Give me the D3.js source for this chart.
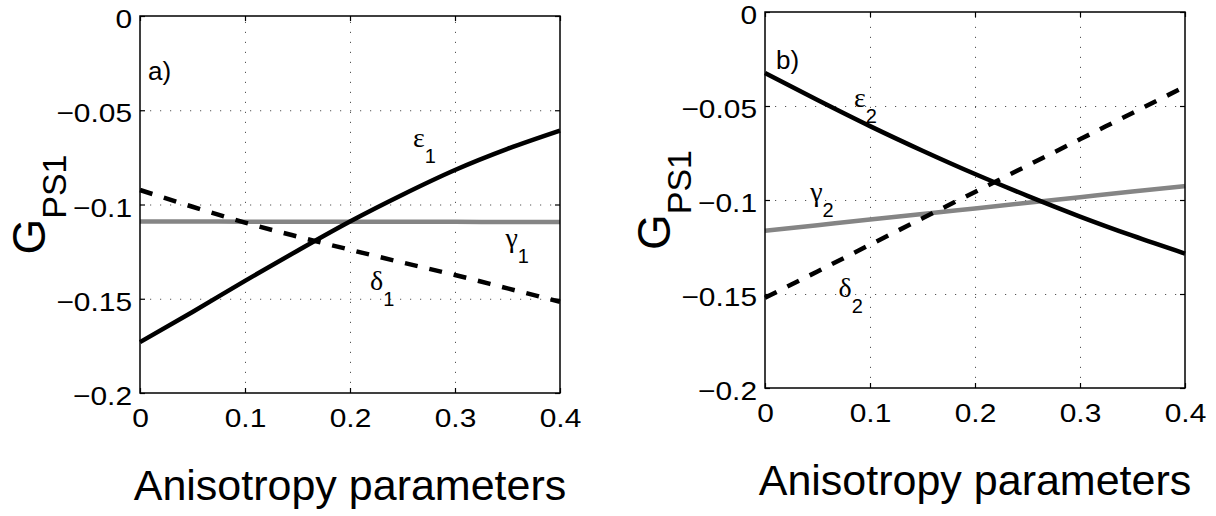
<!DOCTYPE html>
<meta charset="utf-8">
<style>
body { margin: 0; background: white; }
svg { font-family: "Liberation Sans", Arial, Helvetica, sans-serif; }
.frame { fill: none; stroke: black; stroke-width: 1.5; }
.axis path, .grid path { display: none; }
.axis line { stroke: black; stroke-width: 1.2; }
.axis text { font-size: 26px; fill: black; }
.grid line { stroke: #555; stroke-width: 1; stroke-dasharray: 1.2, 8.8; }
</style>
<script src="https://d3js.org/d3.v7.min.js"></script>
<body>
<script>
// values, x = anisotropy parameter
const xValues = [0, 0.05, 0.1, 0.15, 0.2, 0.25, 0.3, 0.35, 0.4];

const eps1 = [-0.173, -0.157, -0.1405, -0.1245, -0.109, -0.0948, -0.0817, -0.0705, -0.0608];
const gam1 = [-0.109, -0.109, -0.1091, -0.1091, -0.1091, -0.1092, -0.1092, -0.1093, -0.1093];
const del1 = [-0.0923, -0.1012, -0.1096, -0.117, -0.124, -0.1308, -0.1374, -0.1445, -0.1516];

const eps2 = [-0.0325, -0.0468, -0.0607, -0.0738, -0.0862, -0.0978, -0.1088, -0.119, -0.1285];
const gam2 = [-0.1164, -0.1134, -0.1104, -0.1075, -0.1045, -0.1015, -0.0985, -0.0955, -0.0926];
const del2 = [-0.152, -0.138, -0.1238, -0.1097, -0.0957, -0.0817, -0.0677, -0.0537, -0.0397];

const xTicks = [0, 0.1, 0.2, 0.3, 0.4];
const xTickLabels = ['0', '0.1', '0.2', '0.3', '0.4'];
const yTicks = [0, -0.05, -0.1, -0.15, -0.2];
const yTickLabels = ['0', '\u22120.05', '\u22120.1', '\u22120.15', '\u22120.2'];

const xTitle = 'Anisotropy parameters';

const width = 420;
const stretch = 1.15; // tick labels in the original are a bit wide

const panels = [
  {
    left: 140, top: 16, height: 377, tag: 'a)', tagAt: [0.0076, -0.034],
    series: [
      {values: gam1, color: '#858585', dash: null},
      {values: del1, color: 'black', dash: '13,12'},
      {values: eps1, color: 'black', dash: null}
    ],
    notes: [
      {greek: '\u03b5', sub: '1', at: [0.26, -0.0695]},
      {greek: '\u03b3', sub: '1', at: [0.348, -0.1225]},
      {greek: '\u03b4', sub: '1', at: [0.219, -0.1454]}
    ]
  },
  {
    left: 765, top: 12, height: 376, tag: 'b)', tagAt: [0.0105, -0.0303],
    series: [
      {values: gam2, color: '#858585', dash: null},
      {values: del2, color: 'black', dash: '13,12'},
      {values: eps2, color: 'black', dash: null}
    ],
    notes: [
      {greek: '\u03b5', sub: '2', at: [0.0848, -0.0505]},
      {greek: '\u03b3', sub: '2', at: [0.043, -0.1005]},
      {greek: '\u03b4', sub: '2', at: [0.07, -0.1516]}
    ]
  }
];

const svg = d3.select('body')
  .append('svg')
    .attr('width', 1216)
    .attr('height', 516);

svg.append('rect')
  .attr('width', 1216)
  .attr('height', 516)
  .attr('fill', 'white');

function drawPanel(p) {
  const height = p.height;
  const g = svg.append('g')
    .attr('transform', `translate(${p.left}, ${p.top})`);

  const xScale = d3.scaleLinear().domain([0, 0.4]).range([0, width]);
  const yScale = d3.scaleLinear().domain([-0.2, 0]).range([height, 0]);

  // dotted grid
  g.append('g')
    .attr('class', 'grid')
    .attr('transform', `translate(0, ${height})`)
    .call(d3.axisBottom(xScale).tickValues(xTicks.slice(1, -1)).tickSize(-height).tickFormat(''));
  g.append('g')
    .attr('class', 'grid')
    .call(d3.axisLeft(yScale).tickValues(yTicks.slice(1, -1)).tickSize(-width).tickFormat(''));

  // curves
  const line = d3.line()
    .x((d, i) => xScale(xValues[i]))
    .y(d => yScale(d))
    .curve(d3.curveMonotoneX);

  p.series.forEach(s => {
    g.append('path')
      .datum(s.values)
      .attr('fill', 'none')
      .attr('stroke', s.color)
      .attr('stroke-width', 4.5)
      .attr('stroke-dasharray', s.dash)
      .attr('d', line);
  });

  // axes, ticks pointing inwards like matlab
  const xAxis = g.append('g')
    .attr('class', 'axis')
    .attr('transform', `translate(0, ${height})`)
    .call(d3.axisBottom(xScale).tickValues(xTicks)
      .tickFormat((d, i) => xTickLabels[i])
      .tickSizeInner(-5).tickSizeOuter(0).tickPadding(15.5));
  xAxis.selectAll('text').attr('transform', `scale(${stretch}, 1)`);

  const yAxis = g.append('g')
    .attr('class', 'axis')
    .call(d3.axisLeft(yScale).tickValues(yTicks)
      .tickFormat((d, i) => yTickLabels[i])
      .tickSizeInner(-5).tickSizeOuter(0).tickPadding(8));
  yAxis.selectAll('text')
    .attr('dy', '0.45em')
    .attr('x', -8 / stretch)
    .attr('transform', `scale(${stretch}, 1)`);

  g.append('g')
    .attr('class', 'axis')
    .call(d3.axisTop(xScale).tickValues(xTicks).tickFormat('').tickSizeInner(-5).tickSizeOuter(0));
  g.append('g')
    .attr('class', 'axis')
    .attr('transform', `translate(${width}, 0)`)
    .call(d3.axisRight(yScale).tickValues(yTicks).tickFormat('').tickSizeInner(-5).tickSizeOuter(0));

  g.append('rect')
    .attr('class', 'frame')
    .attr('width', width)
    .attr('height', height);

  // panel tag
  g.append('text')
    .attr('x', xScale(p.tagAt[0]))
    .attr('y', yScale(p.tagAt[1]))
    .style('font-size', '26px')
    .text(p.tag);

  // curve names
  p.notes.forEach(n => {
    const t = g.append('text')
      .attr('x', xScale(n.at[0]))
      .attr('y', yScale(n.at[1]));
    t.append('tspan')
      .style('font-family', '"Liberation Serif", "Times New Roman", serif')
      .style('font-size', '28px')
      .text(n.greek);
    t.append('tspan')
      .attr('dy', 16)
      .style('font-size', '20px')
      .text(n.sub);
  });

  // axis titles
  g.append('text')
    .attr('x', width / 2)
    .attr('y', height + 107)
    .attr('text-anchor', 'middle')
    .style('font-size', '43px')
    .text(xTitle);

  const yt = g.append('text')
    .attr('transform', `translate(-95, ${height / 2}) rotate(-90)`)
    .attr('text-anchor', 'middle');
  yt.append('tspan').style('font-size', '46px').text('G');
  yt.append('tspan').attr('dy', 21).style('font-size', '34px').text('PS1');
}

panels.forEach(drawPanel);

</script>
</body>
</html>
